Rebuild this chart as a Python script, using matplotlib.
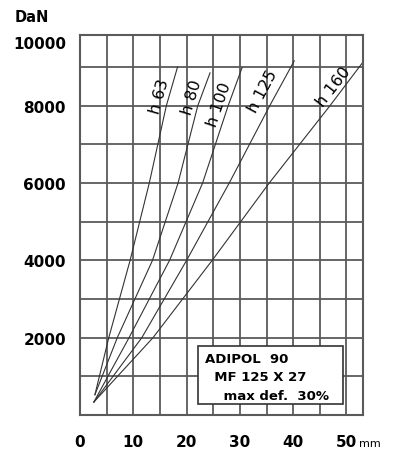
import matplotlib
matplotlib.use("Agg")
import matplotlib.pyplot as plt
from matplotlib.patches import Rectangle

# load curves: deflection [mm] vs load [DaN]
h63_x = [2.8, 5.4, 9.4, 13.0, 16.2, 18.3]
h63_y = [525, 2000, 4000, 6000, 8000, 9000]
h80_x = [2.8, 7.0, 13.6, 18.4, 22.1, 24.4]
h80_y = [525, 2000, 4000, 6000, 8000, 8850]
h100_x = [2.6, 9.2, 16.8, 23.0, 27.8, 30.4]
h100_y = [335, 2000, 4000, 6000, 8000, 8980]
h125_x = [2.6, 11.6, 20.0, 28.0, 35.6, 40.2]
h125_y = [335, 2000, 4000, 6000, 8000, 9160]
h160_x = [2.6, 13.7, 24.8, 35.5, 46.9, 53.1]
h160_y = [335, 2000, 4000, 6000, 8000, 9130]

curve_labels = ["h 63", "h 80", "h 100", "h 125", "h 160"]
label_x = [15.0, 21.0, 26.1, 34.3, 47.5]
label_y = [8260, 8230, 8050, 8390, 8510]
label_rot = [74, 73, 71, 62, 52]

x_ticks = [0, 10, 20, 30, 40, 50]
y_ticks = [2000, 4000, 6000, 8000]
grid_x = [5, 10, 15, 20, 25, 30, 35, 40, 45, 50]
grid_y = [1000, 2000, 3000, 4000, 5000, 6000, 7000, 8000, 9000]

box_lines = ["ADIPOL  90", "  MF 125 X 27", "    max def.  30%"]

fig = plt.figure(figsize=(3.95, 4.52), dpi=100)
ax = fig.add_axes([0.2025, 0.0796, 0.7165, 0.8408])
ax.set_xlim(0, 53.1)
ax.set_ylim(0, 9830)

grid_col = "#5a5a5a"
for gx in grid_x:
    ax.axvline(gx, color=grid_col, lw=1.3, zorder=1)
for gy in grid_y:
    ax.axhline(gy, color=grid_col, lw=1.3, zorder=1)
for s in ax.spines.values():
    s.set_color(grid_col)
    s.set_linewidth(1.5)

curves = [(h63_x, h63_y), (h80_x, h80_y), (h100_x, h100_y),
          (h125_x, h125_y), (h160_x, h160_y)]
for (cx, cy) in curves:
    ax.plot(cx, cy, color="#333333", lw=0.8, zorder=2)

for lab, lx, ly, r in zip(curve_labels, label_x, label_y, label_rot):
    ax.text(lx, ly, lab, rotation=r, ha="center", va="center",
            fontsize=11.5, color="black", zorder=3)

# info box
ax.add_patch(Rectangle((22.1, 284), 27.2, 1496, facecolor="white",
                       edgecolor="#333333", lw=1.2, zorder=4))
for i, line in enumerate(box_lines):
    ax.text(23.4, 1470 - i * 480, line, fontsize=9.5, fontweight="bold",
            ha="left", va="center", zorder=5)

ax.set_xticks(x_ticks)
ax.set_xticklabels([str(v) for v in x_ticks], fontsize=11, fontweight="bold")
ax.set_yticks(y_ticks + [9650])
ax.set_yticklabels([str(v) for v in y_ticks] + ["10000"], fontsize=11,
                   fontweight="bold")
ax.tick_params(length=0)
ax.tick_params(axis="x", pad=14)
ax.tick_params(axis="y", pad=10)

fig.text(32 / 395, 1 - 18 / 452, "DaN", fontsize=10.5, fontweight="bold",
         ha="center", va="center")
fig.text(359 / 395, 1 - 444 / 452, "mm", fontsize=8, ha="left", va="center")

fig.savefig("out.png", dpi=100)
